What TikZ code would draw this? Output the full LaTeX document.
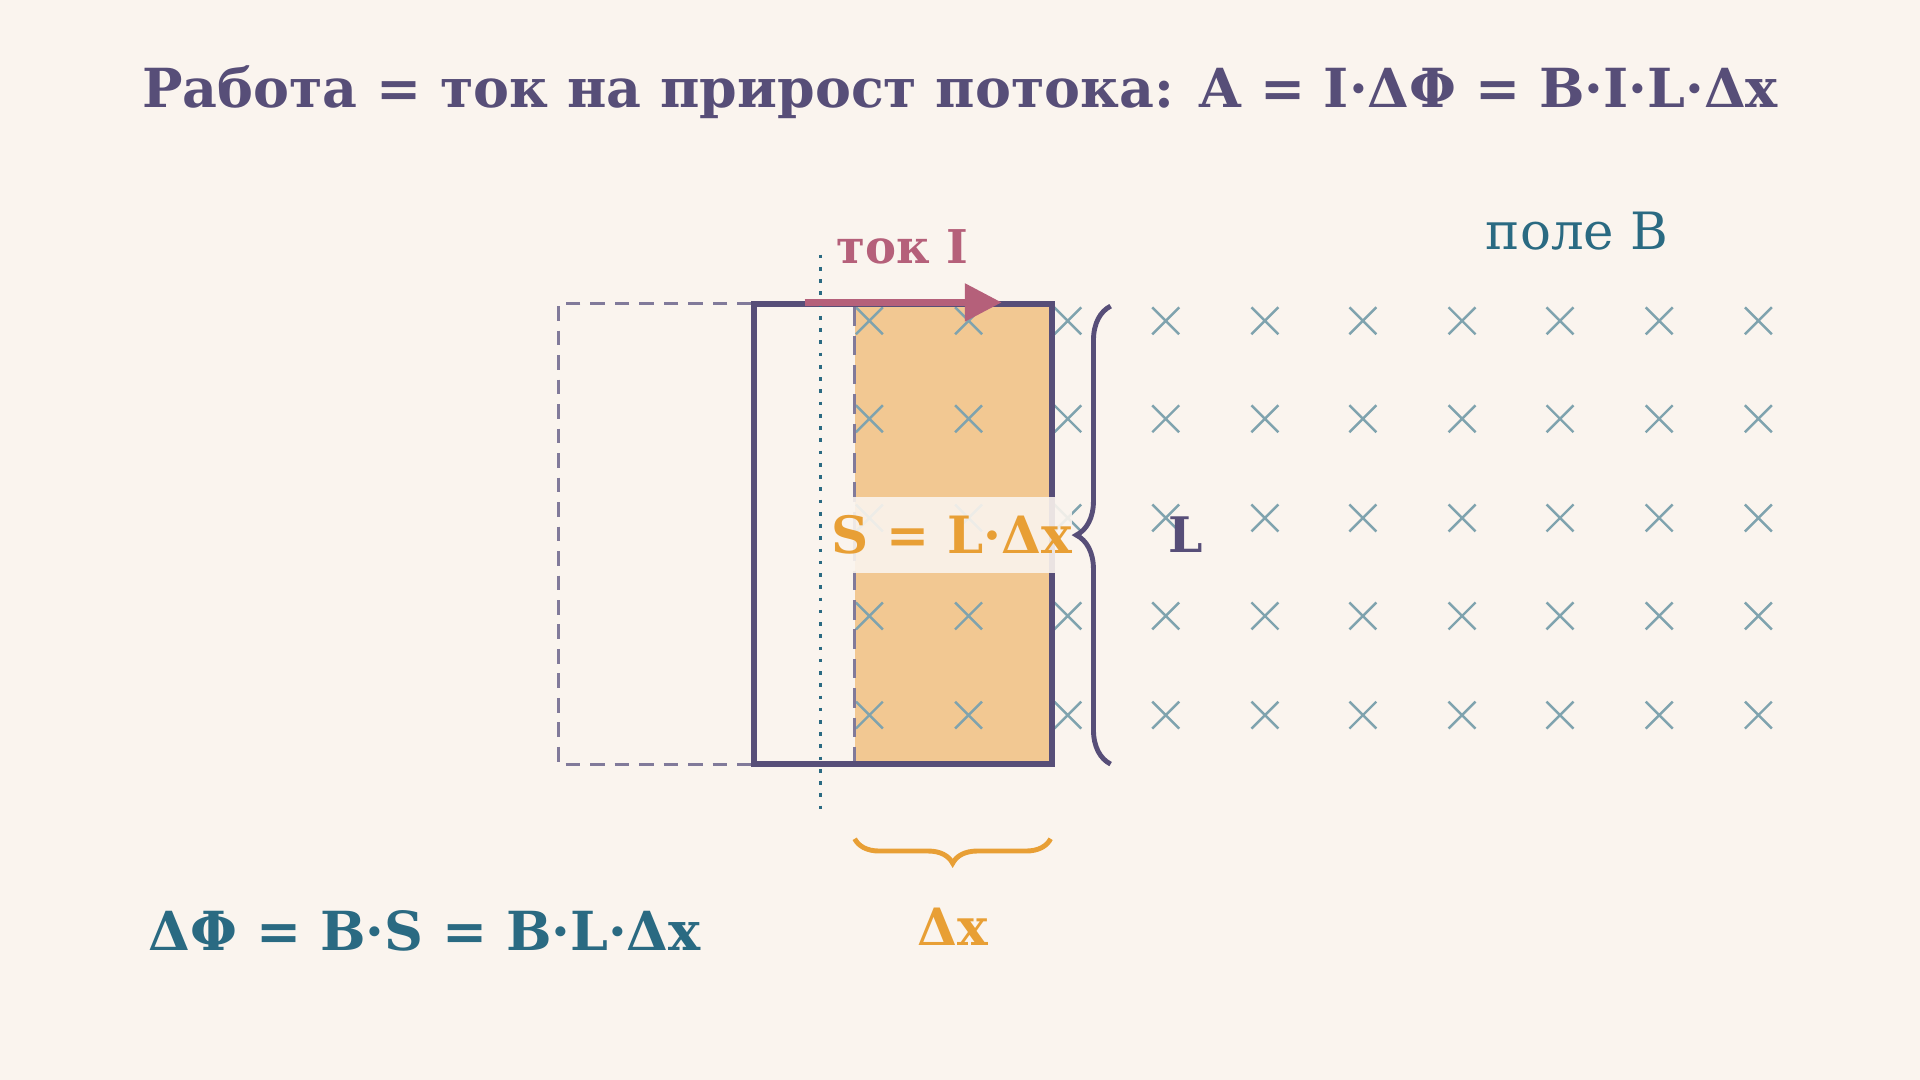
\documentclass[tikz,border=0pt]{standalone}
\usepackage{fontspec}
\setmainfont{DejaVu Serif}
\usetikzlibrary{arrows.meta,decorations.pathreplacing}
\definecolor{bg}{HTML}{FAF4EE}
\definecolor{ink}{HTML}{574E78}
\definecolor{teal}{HTML}{2A6A82}
\definecolor{crossc}{HTML}{7FA3AE}
\definecolor{rose}{HTML}{B5607A}
\definecolor{orng}{HTML}{E89F35}
\definecolor{fillo}{HTML}{F2C892}
\tikzset{
 cross/.style={draw=crossc,line width=2pt},
 big/.style={font=\fontsize{42}{48}\selectfont\bfseries},
}
\begin{document}
\begin{tikzpicture}[x=1pt,y=-1pt]
\fill[bg] (0,0) rectangle (1568,882);
\useasboundingbox (0,0) rectangle (1568,882);
\node[text=ink,font=\fontsize{44}{50}\selectfont\bfseries] (title) at (784,75) {Работа = ток на прирост потока: A = I·ΔΦ = B·I·L·Δx};
\node[text=teal,font=\fontsize{42}{48}\selectfont] (field) at (1288,189) {поле B};
% shaded area
\fill[fillo] (698,250) rectangle (857,622);
% crosses
\foreach \x in {710,791,872,952,1033,1113,1194,1274,1355,1436}
 \foreach \y in {262,342,423,503,584}
  \draw[cross] (\x-11,\y-11) -- (\x+11,\y+11) (\x-11,\y+11) -- (\x+11,\y-11);
% old frame
\draw[ink!75,line width=2.5pt,dash pattern=on 12pt off 8pt] (614,248) -- (456,248) -- (456,624) -- (614,624);
\draw[ink!75,line width=2.5pt,dash pattern=on 16pt off 8pt] (698,250) -- (698,622);
% frame
\coordinate (fa) at (616,248);
\coordinate (fb) at (859,624);
\draw[ink,line width=5pt] (fa) rectangle (fb);
% dotted line
\coordinate (d1) at (670,208);
\coordinate (d2) at (670,665);
\draw[teal,line width=2.5pt,dash pattern=on 3pt off 7pt] (d1) -- (d2);
% current arrow
\coordinate (a1) at (657,247);
\coordinate (a2) at (818,247);
\draw[rose,line width=5pt,-{Triangle[length=30pt,width=30pt]}] (a1) -- (a2);
\node[text=rose,font=\fontsize{38}{44}\selectfont\bfseries] (tok) at (737,202) {ток I};
% S label
\node[fill=bg,fill opacity=0.9,text opacity=1,text=orng,big,minimum width=178pt,minimum height=62pt,inner sep=0pt] (S) at (777,437) {S = L·Δx};
% right brace
\coordinate (b1) at (907,250);
\coordinate (b2) at (907,624);
\draw[ink,line width=4pt,decorate,decoration={brace,amplitude=28pt,mirror}] (b1) -- (b2);
\node[text=ink,big,font=\fontsize{40}{46}\selectfont\bfseries] (L) at (968,437) {L};
% bottom brace
\coordinate (c1) at (698,685);
\coordinate (c2) at (858,685);
\draw[orng,line width=4pt,decorate,decoration={brace,amplitude=20pt,mirror}] (c1) -- (c2);
\node[text=orng,big] (dx) at (778,757) {Δx};
\node[text=teal,big,font=\fontsize{44}{50}\selectfont\bfseries] (flux) at (347,760) {ΔΦ = B·S = B·L·Δx};
\end{tikzpicture}
\end{document}
